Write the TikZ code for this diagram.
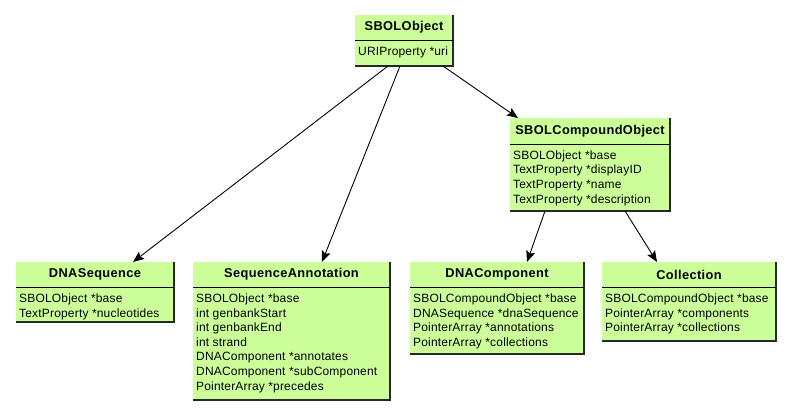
\documentclass[tikz,border=0pt]{standalone}
\usepackage{fontspec}
\setmainfont{Liberation Sans}
\usetikzlibrary{arrows.meta}
\definecolor{boxfill}{RGB}{204,255,153}
\definecolor{boxedge}{RGB}{40,40,40}
\tikzset{
  boxbody/.style={fill=boxfill, draw=none, inner sep=0pt, anchor=north west},
  boxedgeline/.style={draw=boxedge, line width=1.2pt},
  divline/.style={draw=black, line width=1pt},
  titletext/.style={font=\fontsize{12.8}{14}\selectfont\bfseries\addfontfeature{LetterSpace=3}, inner sep=0pt},
  attrtext/.style={font=\fontsize{12}{14.6}\selectfont\addfontfeature{LetterSpace=1.5}, inner sep=0pt, align=left, anchor=north west},
  inherit/.style={draw=black, line width=0.9pt, -{Stealth[length=11pt,width=9pt,inset=2pt]}}
}
% #1 name, #2 left, #3 top, #4 right, #5 divider, #6 bottom, #7 title, #8 attributes
\newcommand\umlbox[8]{%
  \node[boxbody, minimum width={#4-#2}, minimum height={#6-#3}] (#1) at (#2,#3) {};
  \draw[boxedgeline] (#4,#3) -- (#4,#6) -- (#2,#6);
  \draw[divline] (#2,#5) -- (#4,#5);
  \node[titletext] (#1-t) at ({(#2+#4)/2},{(#3+#5)/2}) {#7};
  \node[attrtext] (#1-a) at ({#2+3},{#5+6.5}) {#8};
}
\begin{document}
\begin{tikzpicture}[x=1pt,y=-1pt]
\useasboundingbox (0,0) rectangle (791,415);
\umlbox{obj}{355}{15}{453}{40}{66}{SBOLObject}{URIProperty *uri}
\umlbox{cobj}{510}{118}{670}{144}{211}{SBOLCompoundObject}{SBOLObject *base\\TextProperty *displayID\\TextProperty *name\\TextProperty *description}
\umlbox{dseq}{16}{262}{174}{287}{322}{DNASequence}{SBOLObject *base\\TextProperty *nucleotides}
\umlbox{sann}{193}{262}{390}{287}{400}{SequenceAnnotation}{SBOLObject *base\\int genbankStart\\int genbankEnd\\int strand\\DNAComponent *annotates\\DNAComponent *subComponent\\PointerArray *precedes}
\umlbox{dcomp}{410}{262}{584}{287}{354}{DNAComponent}{SBOLCompoundObject *base\\DNASequence *dnaSequence\\PointerArray *annotations\\PointerArray *collections}
\umlbox{coll}{602}{262}{776}{287}{341}{Collection}{SBOLCompoundObject *base\\PointerArray *components\\PointerArray *collections}
% connector end points
\coordinate (obj-s1) at (388,66);
\coordinate (obj-s2) at (400,66);
\coordinate (obj-s3) at (443,66);
\coordinate (dseq-n) at (133,262);
\coordinate (sann-n) at (322,262);
\coordinate (cobj-n) at (518,118);
\coordinate (cobj-s1) at (545,211);
\coordinate (cobj-s2) at (625,211);
\coordinate (dcomp-n) at (527,262);
\coordinate (coll-n) at (657,262);
\draw[inherit] (obj-s1) -- (dseq-n);
\draw[inherit] (obj-s2) -- (sann-n);
\draw[inherit] (obj-s3) -- (cobj-n);
\draw[inherit] (cobj-s1) -- (dcomp-n);
\draw[inherit] (cobj-s2) -- (coll-n);
\end{tikzpicture}
\end{document}
